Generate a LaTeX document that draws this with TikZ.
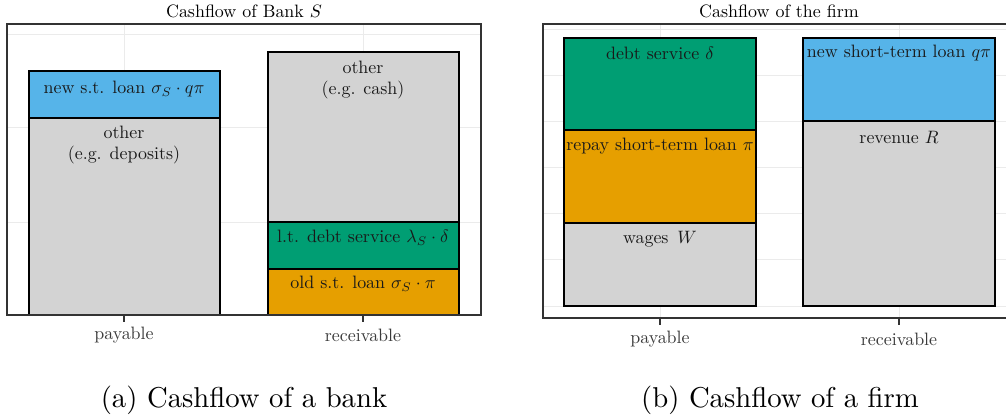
\RequirePackage{fix-cm}
\documentclass[tikz,border=0pt]{standalone}
\definecolor{skyb}{HTML}{56B4E9}
\definecolor{bgreen}{HTML}{009E73}
\definecolor{borange}{HTML}{E69F00}
\definecolor{bgray}{HTML}{D3D3D3}
\definecolor{gridc}{HTML}{EBEBEB}
\definecolor{axc}{HTML}{333333}
\definecolor{axt}{HTML}{3A3A3A}
\newcommand\plotfont{\fontsize{10}{12}\selectfont}
\newcommand\capfont{\fontsize{10}{12}\selectfont}
\tikzset{
  gridline/.style={draw=gridc, line width=0.35pt},
  panelbox/.style={draw=axc, line width=0.5pt},
  seg/.style={draw=black, line width=0.5pt},
  tickline/.style={draw=axc, line width=0.5pt},
  seglabel/.style={inner sep=0pt, font=\plotfont, text=black!90, scale=0.625},
  axlabel/.style={inner sep=0pt, font=\plotfont, text=axt, scale=0.625},
  titlelabel/.style={inner sep=0pt, font=\plotfont, text=black, scale=0.625},
  caplabel/.style={inner sep=0pt, font=\capfont, text=black},
}
\begin{document}
\begin{tikzpicture}[x=0.3484pt,y=-0.3484pt]
\useasboundingbox (0,0) rectangle (1006,419);
\fill[white] (0,0) rectangle (1006,419);
% ---------------- Panel (a) ----------------
\begin{scope}
\clip (7,24) rectangle (481,315);
\foreach \yy in {34,127,222} \draw[gridline] (7,\yy) -- (481,\yy);
\foreach \xx in {124,363} \draw[gridline] (\xx,24) -- (\xx,315);
\end{scope}
% payable bar
\draw[seg, fill=bgray] (29,118) rectangle (220,315);
\draw[seg, fill=skyb] (29,71) rectangle (220,118);
% receivable bar
\draw[seg, fill=bgray] (268,52) rectangle (459,222);
\draw[seg, fill=bgreen] (268,222) rectangle (459,269);
\draw[seg, fill=borange] (268,269) rectangle (459,315);
\draw[panelbox] (7,24) rectangle (481,315);
\coordinate (ta1) at (124,315);
\coordinate (ta2) at (363,315);
\draw[tickline] (ta1) -- ++(0,7);
\draw[tickline] (ta2) -- ++(0,7);
\node[seglabel] (a1) at (124,89) {new s.t. loan $\sigma_S\cdot q\pi$};
\node[seglabel, align=center] (a2) at (124,145) {other\\(e.g. deposits)};
\node[seglabel, align=center] (a3) at (363,80) {other\\(e.g. cash)};
\node[seglabel] (a4) at (363,238) {l.t. debt service $\lambda_S\cdot\delta$};
\node[seglabel] (a5) at (363,284) {old s.t. loan $\sigma_S\cdot\pi$};
\node[axlabel] (ap) at (124,335) {payable};
\node[axlabel] (ar) at (363,335) {receivable};
\node[titlelabel] (at) at (244,11) {Cashflow of Bank $S$};
\node[caplabel] (ac) at (244,400) {(a) Cashflow of a bank};
% ---------------- Panel (b) ----------------
\begin{scope}
\clip (543,24) rectangle (1010,318);
\foreach \yy in {29,75,121,167,213,259,306} \draw[gridline] (543,\yy) -- (1010,\yy);
\foreach \xx in {660,899} \draw[gridline] (\xx,24) -- (\xx,318);
\end{scope}
% payable bar
\draw[seg, fill=bgray] (564,223) rectangle (756,306);
\draw[seg, fill=borange] (564,130) rectangle (756,223);
\draw[seg, fill=bgreen] (564,38) rectangle (756,130);
% receivable bar
\draw[seg, fill=bgray] (803,121) rectangle (995,306);
\draw[seg, fill=skyb] (803,38) rectangle (995,121);
\draw[panelbox] (543,24) rectangle (1012,318);
\coordinate (tb1) at (660,318);
\coordinate (tb2) at (899,318);
\draw[tickline] (tb1) -- ++(0,7);
\draw[tickline] (tb2) -- ++(0,7);
\node[seglabel] (b1) at (660,53) {debt service $\delta$};
\node[seglabel] (b2) at (660,146) {repay short-term loan $\pi$};
\node[seglabel] (b3) at (660,239) {wages\, $W$};
\node[seglabel] (b4) at (899,53) {new short-term loan $q\pi$};
\node[seglabel] (b5) at (899,137) {revenue $R$};
\node[axlabel] (bp) at (660,339) {payable};
\node[axlabel] (br) at (899,339) {receivable};
\node[titlelabel] (bt) at (779,11) {Cashflow of the firm};
\node[caplabel] (bc) at (780,400) {(b) Cashflow of a firm};
\end{tikzpicture}
\end{document}
